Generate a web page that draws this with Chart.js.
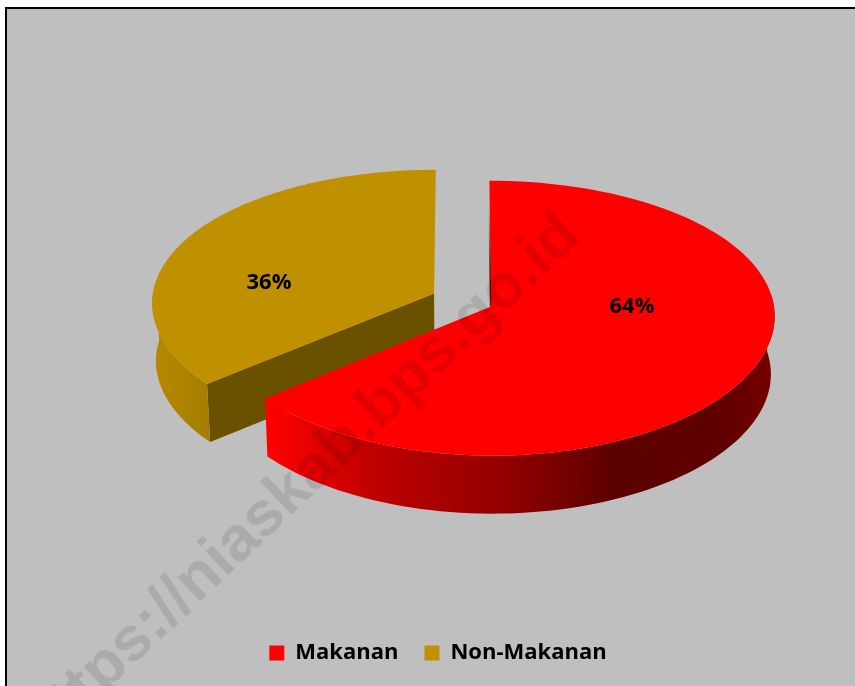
<!DOCTYPE html>
<html>
<head>
<meta charset="utf-8">
<title>Makanan dan Non-Makanan</title>
<script src="https://cdn.jsdelivr.net/npm/chart.js@4"></script>
<style>
  html, body { margin: 0; padding: 0; background: #fff; overflow: hidden; }
  #page { position: relative; width: 855px; height: 686px; overflow: hidden; }
  #box { position: absolute; left: 5px; top: 7px; width: 870px; height: 700px; background: #bfbfbf; border: 2px solid #000; border-right: 0; border-bottom: 0; }
  #chart { position: absolute; left: 0; top: 0; }
  #watermark {
    position: absolute; left: 30px; top: 702px; white-space: nowrap;
    font: bold 63px "Liberation Sans", Arial, sans-serif; line-height: 1;
    color: rgba(0, 0, 0, 0.105);
    transform-origin: 0 50%; transform: rotate(-43.5deg);
  }
</style>
</head>
<body>
<div id="page">
  <div id="box"></div>
  <canvas id="chart" width="855" height="686"></canvas>
  <div id="watermark">https://niaskab.bps.go.id</div>
</div>
<script>
const categories = ['Makanan', 'Non-Makanan'];
const shares = [64, 36];
const sliceColors = ['#ff0000', '#bf9000'];

const FONT = '"Open Sans", "Noto Sans", sans-serif';
const TILT = 0.48;      // how flat the pie lies
const PERSP = 0.085;    // near edge a bit bigger than far edge
const PERSP_X = 0.064;
const DEPTH = 58;
const EXPLODE = 31.5;
const labelSpots = [[0.5, 0], [-0.585, -0.04]];

function wallGradient(ctx, i) {
  if (i === 0) {
    const g = ctx.createLinearGradient(270, 0, 776, 0);
    g.addColorStop(0, '#ff0000');
    g.addColorStop(0.2, '#c00000');
    g.addColorStop(0.45, '#960000');
    g.addColorStop(0.68, '#5c0000');
    g.addColorStop(0.9, '#600000');
    g.addColorStop(1, '#780000');
    return g;
  }
  const g = ctx.createLinearGradient(156, 0, 210, 0);
  g.addColorStop(0, '#b58800');
  g.addColorStop(1, '#a67d00');
  return g;
}

const pie3d = {
  id: 'pie3d',
  afterLayout(chart) {
    // legend sits left of the pie centre and lower than the layout puts it
    chart.legend.left -= 24.5;
    chart.legend.right -= 24.5;
    chart.legend.top += 16;
    chart.legend.bottom += 16;
  },
  beforeDatasetsDraw(chart) {
    const ctx = chart.ctx;
    const arcs = chart.getDatasetMeta(0).data;

    // back slice first, the red one overlaps it
    [1, 0].forEach(i => {
      const arc = arcs[i];
      const r = arc.outerRadius;
      const mid = (arc.startAngle + arc.endAngle) / 2;
      const offX = Math.cos(mid) * arc.options.offset;
      const offY = Math.sin(mid) * arc.options.offset;

      const project = (u, v, z) => {
        const fx = 1 / (1 - PERSP_X * v / r);
        const fy = 1 / (1 - PERSP * v / r);
        const lean = z ? 0.988 : 1;
        return [arc.x + u * fx * lean, arc.y + v * TILT * fy + z];
      };
      const rim = (z, frontOnly) => {
        const pts = [];
        for (let k = 0; k <= 120; k++) {
          const a = arc.startAngle + (arc.endAngle - arc.startAngle) * k / 120;
          if (frontOnly && Math.sin(a) < -0.1) continue;
          pts.push(project(Math.cos(a) * r + offX, Math.sin(a) * r + offY, z));
        }
        return pts;
      };
      const fill = (pts, color) => {
        ctx.beginPath();
        pts.forEach((p, n) => n ? ctx.lineTo(p[0], p[1]) : ctx.moveTo(p[0], p[1]));
        ctx.closePath();
        ctx.fillStyle = color;
        ctx.fill();
      };

      const top = rim(0);
      const apex = project(offX, offY, 0);

      // only the gold slice shows its cut face
      if (i === 1) {
        fill([apex, top[0], rim(DEPTH)[0], project(offX, offY, DEPTH)], '#6a5100');
      }
      // outer wall, then the lid
      fill(rim(0, true).concat(rim(DEPTH, true).reverse()), wallGradient(ctx, i));
      fill([apex].concat(top), arc.options.backgroundColor);

      if (i === 0) {
        // thin shadow line along the upright cut of the red slice
        const g = ctx.createLinearGradient(0, top[0][1], 0, apex[1]);
        g.addColorStop(0.2, 'rgba(90,0,0,0)');
        g.addColorStop(0.7, 'rgba(90,0,0,0.9)');
        ctx.strokeStyle = g;
        ctx.lineWidth = 1.5;
        ctx.beginPath();
        ctx.moveTo(top[0][0] - 0.5, top[0][1]);
        ctx.lineTo(apex[0] - 0.5, apex[1]);
        ctx.stroke();
      }
    });

    ctx.font = 'bold 22px ' + FONT;
    ctx.fillStyle = '#000';
    ctx.textAlign = 'center';
    ctx.textBaseline = 'middle';
    arcs.forEach((arc, i) => {
      const mid = (arc.startAngle + arc.endAngle) / 2;
      const x = arc.x + Math.cos(mid) * arc.options.offset + labelSpots[i][0] * arc.outerRadius;
      const y = arc.y + Math.sin(mid) * arc.options.offset * TILT + labelSpots[i][1] * arc.outerRadius;
      ctx.fillText(shares[i] + '%', x, y);
    });
    return false;
  }
};

new Chart(document.getElementById('chart'), {
  type: 'pie',
  data: {
    labels: categories,
    datasets: [{
      data: shares,
      backgroundColor: sliceColors,
      borderWidth: 0,
      offset: EXPLODE
    }]
  },
  options: {
    responsive: false,
    animation: false,
    radius: 282,
    layout: { padding: { left: 70, right: 0, top: 0, bottom: 28 } },
    plugins: {
      tooltip: { enabled: false },
      legend: {
        position: 'bottom',
        labels: {
          boxWidth: 15,
          boxHeight: 15,
          padding: 26,
          color: '#000',
          font: { family: FONT, size: 22, weight: 'bold' }
        }
      }
    }
  },
  plugins: [pie3d]
});
</script>
</body>
</html>
